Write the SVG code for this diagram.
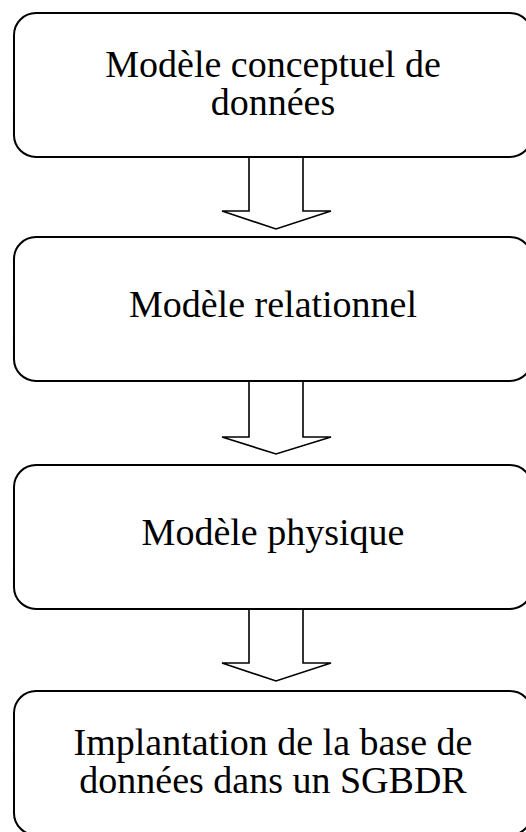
<svg xmlns="http://www.w3.org/2000/svg" width="526" height="832" viewBox="0 0 526 832">
<style>
.box{fill:#fff;stroke:#000;stroke-width:2}
.arr{fill:#fff;stroke:#000;stroke-width:1.6;stroke-linejoin:miter}
.t{font-family:"Liberation Serif","Times New Roman",serif;font-size:38px;fill:#000;text-anchor:middle}
</style>
<rect width="526" height="832" fill="#fff"/>
<g id="connectors">
<path class="arr" d="M249,157 V211 H222 L276,229 L331,211 H303 V157"/>
<path class="arr" d="M249,381 V437 H222 L276,454 L331,437 H303 V381"/>
<path class="arr" d="M249,609 V663 H222 L276,681 L331,663 H303 V609"/>
</g>
<g id="node1">
<rect class="box" x="14" y="13" width="518" height="144" rx="22" ry="22"/>
<text class="t" x="273" y="77">Modèle conceptuel de</text>
<text class="t" x="273" y="115">données</text>
</g>
<g id="node2">
<rect class="box" x="14" y="237" width="518" height="144" rx="22" ry="22"/>
<text class="t" x="273" y="317">Modèle relationnel</text>
</g>
<g id="node3">
<rect class="box" x="14" y="465" width="518" height="144" rx="22" ry="22"/>
<text class="t" x="273" y="545">Modèle physique</text>
</g>
<g id="node4">
<rect class="box" x="14" y="691" width="518" height="144" rx="22" ry="22"/>
<text class="t" x="273" y="755">Implantation de la base de</text>
<text class="t" x="273" y="793">données dans un SGBDR</text>
</g>
</svg>
